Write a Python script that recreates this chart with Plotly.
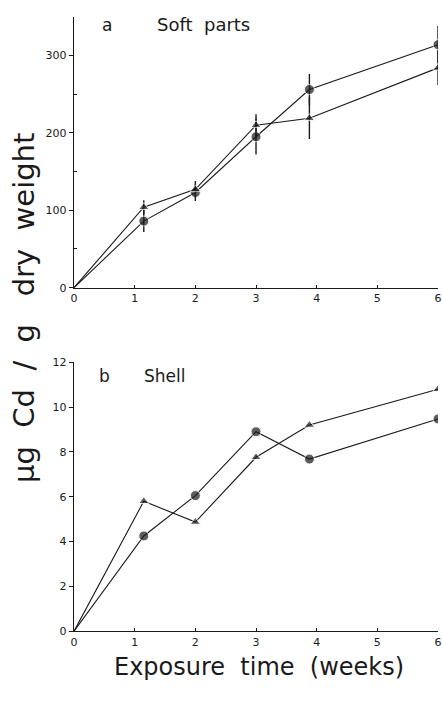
import plotly.graph_objects as go

# ---- data ----
weeks = [0, 1.15, 2, 3, 3.88, 6]

soft_circle = [0, 86, 123, 195, 256, 314]
soft_circle_err = [0, 14, 11, 23, 20, 24]
soft_triangle = [0, 104, 127, 210, 219, 284]
soft_triangle_err = [0, 9, 11, 14, 27, 22]

shell_circle = [0, 4.25, 6.05, 8.9, 7.68, 9.47]
shell_triangle = [0, 5.8, 4.87, 7.76, 9.2, 10.8]

x_ticks = [0, 1, 2, 3, 4, 5, 6]
soft_ticks = [0, 100, 200, 300]
shell_ticks = [0, 2, 4, 6, 8, 10, 12]

W, H = 442, 702
FONT = "DejaVu Sans"
INK = "#1a1a1a"
NB = "\u00a0"

fig = go.Figure()

def add_series(x, y, symbol, size, xa, ya, err=None):
    kw = {}
    if err is not None:
        kw["error_y"] = dict(type="data", array=err, visible=True,
                             width=0, thickness=1.4, color=INK)
    fig.add_trace(go.Scatter(
        x=x, y=y, mode="lines+markers", xaxis=xa, yaxis=ya,
        line=dict(color=INK, width=1.1),
        marker=dict(symbol=symbol, size=[0] + [size] * (len(x) - 1), color=INK),
        showlegend=False, hoverinfo="skip", **kw))

add_series(weeks, soft_circle, "circle", 10, "x", "y", soft_circle_err)
add_series(weeks, soft_triangle, "triangle-up", 9, "x", "y", soft_triangle_err)
add_series(weeks, shell_circle, "circle", 10, "x2", "y2")
add_series(weeks, shell_triangle, "triangle-up", 9, "x2", "y2")

def px(x):
    return x / W

def py(y):
    return 1 - y / H

xdom = [px(72), px(441)]
ydom_a = [py(287), py(11)]
ydom_b = [py(637), py(363)]

common_x = dict(range=[0, 6], tickvals=x_ticks, showgrid=False, zeroline=False,
                showline=True, linecolor=INK, linewidth=1.2,
                ticks="inside", ticklen=3, tickcolor=INK,
                ticklabeloverflow="allow",
                tickfont=dict(family=FONT, size=11, color=INK))
common_y = dict(showgrid=False, zeroline=False, showline=True, linecolor=INK,
                linewidth=1.2, ticks="outside", ticklen=4, tickcolor=INK,
                tickfont=dict(family=FONT, size=11, color=INK))

fig.update_layout(
    width=W, height=H,
    margin=dict(l=0, r=0, t=0, b=0),
    paper_bgcolor="white", plot_bgcolor="white",
    hovermode=False,
    xaxis=dict(domain=xdom, anchor="y", **common_x),
    yaxis=dict(domain=ydom_a, anchor="x", range=[0, 350], tickvals=soft_ticks,
               minor=dict(tickvals=[50, 150, 250], ticks="inside", ticklen=3,
                          tickcolor=INK),
               **common_y),
    xaxis2=dict(domain=xdom, anchor="y2", **common_x),
    yaxis2=dict(domain=ydom_b, anchor="x2", range=[0, 12], tickvals=shell_ticks,
                **common_y),
)

def txt(x, y, s, size, angle=0):
    fig.add_annotation(x=px(x), y=py(y), xref="paper", yref="paper",
                       text=s, showarrow=False, textangle=angle,
                       font=dict(family=FONT, size=size, color=INK),
                       xanchor="center", yanchor="middle")

txt(105, 19, "a", 17)
txt(203, 19, "Soft" + NB * 2 + "parts", 18)
txt(103, 377, "b", 17)
txt(164, 377, "Shell", 17)
txt(22, 308, "µg" + NB * 2 + "Cd" + NB * 2 + "/" + NB * 2 + "g" + NB * 3
    + "dry" + NB * 2 + "weight", 29, angle=-90)
txt(260, 673, "Exposure" + NB * 2 + "time" + NB * 2 + "(weeks)", 24)

fig.write_html(
    "out.html",
    config={"displayModeBar": False, "staticPlot": True},
    post_script="document.body.style.margin='0';"
                "document.documentElement.style.overflow='hidden';"
                "document.body.style.overflow='hidden';",
)
